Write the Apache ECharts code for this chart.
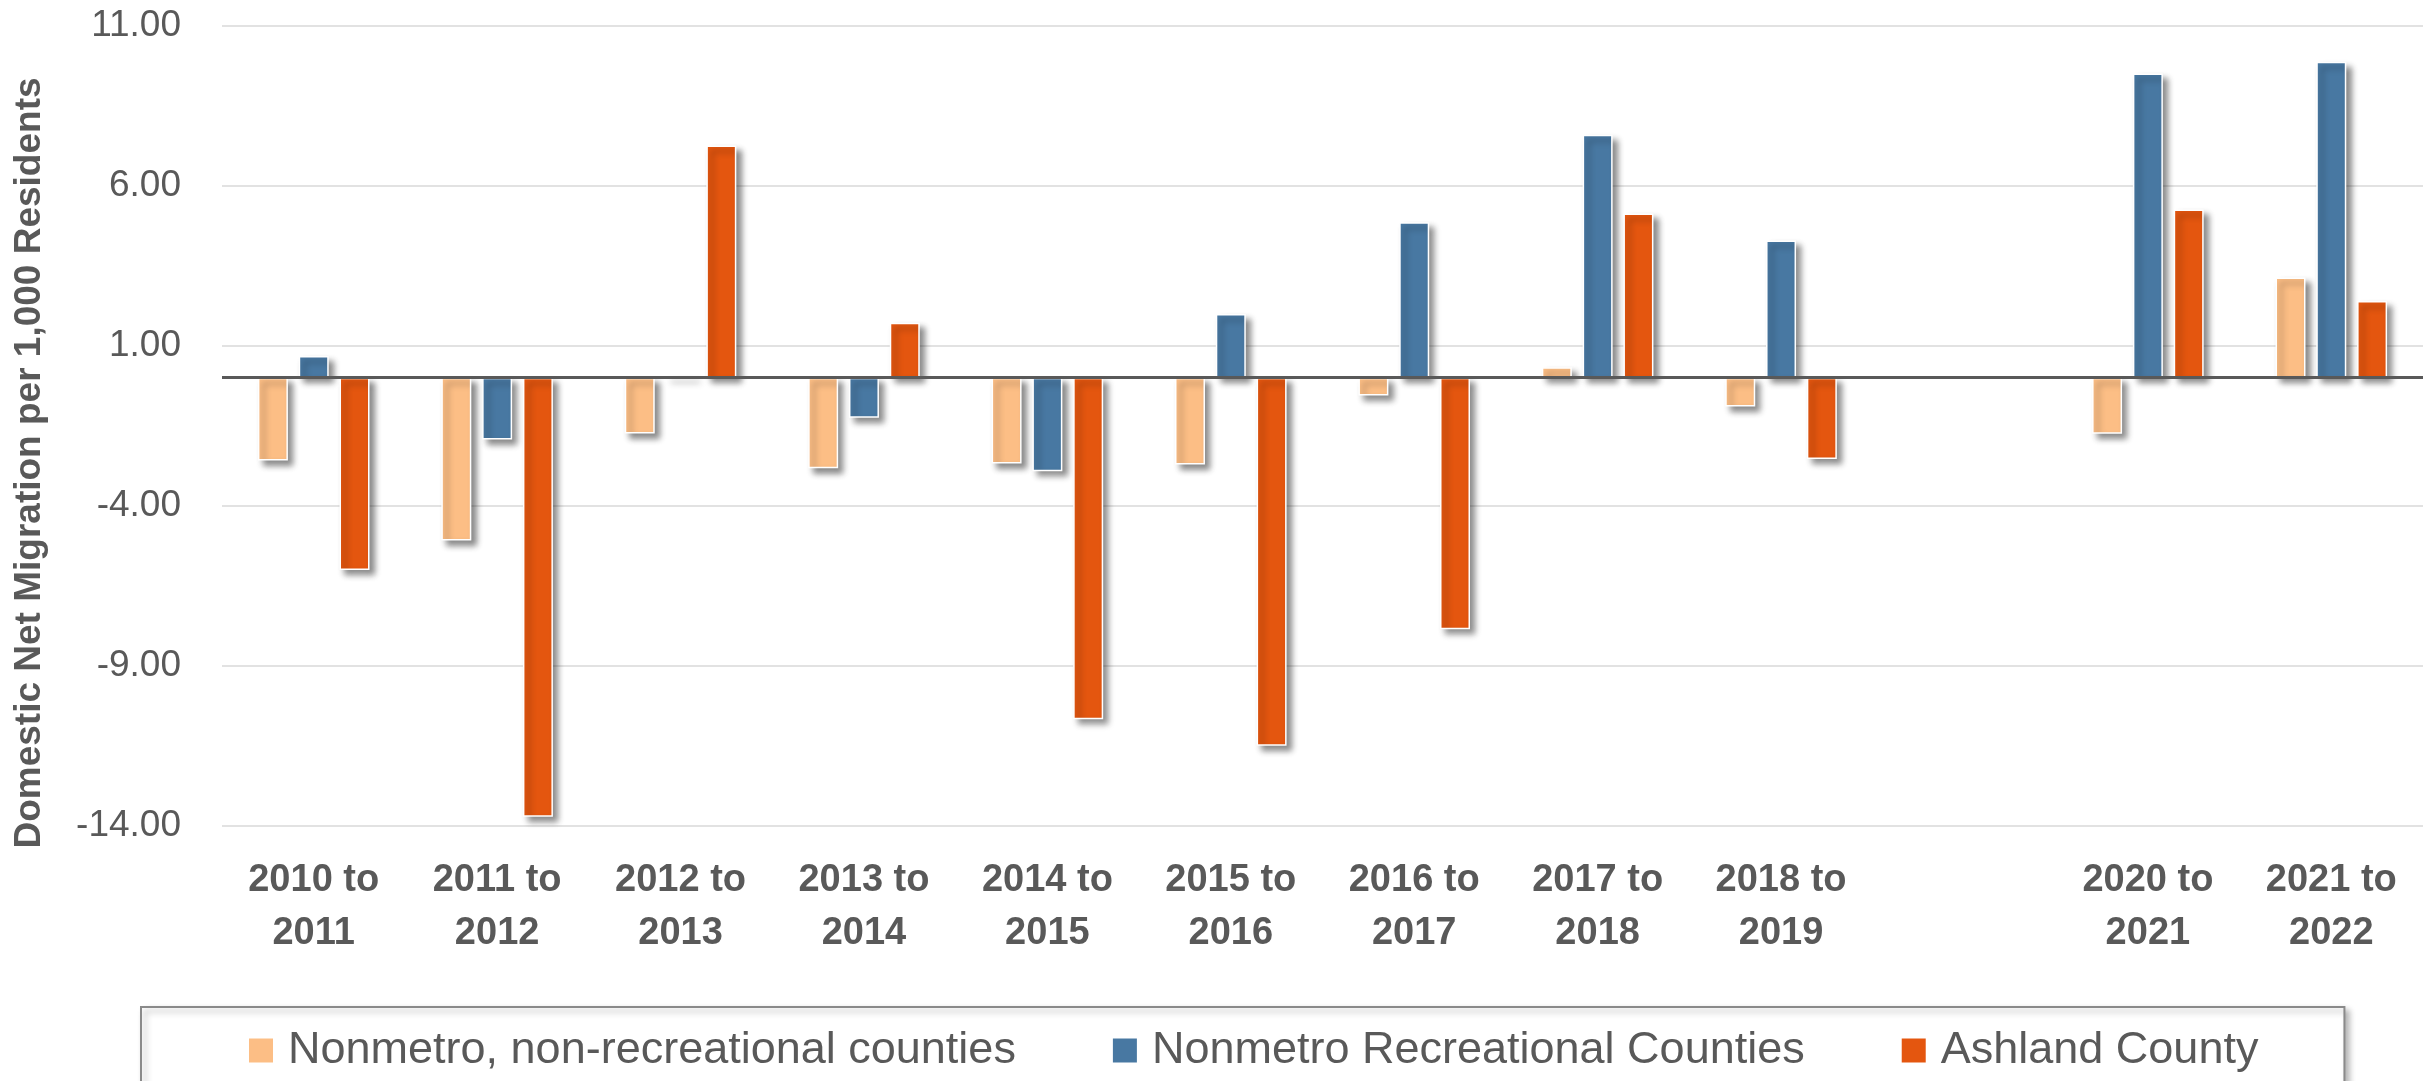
<!DOCTYPE html>
<html>
<head>
<meta charset="utf-8">
<title>Domestic Net Migration per 1,000 Residents</title>
<script src="https://cdn.jsdelivr.net/npm/echarts@6/dist/echarts.min.js"></script>
<style>
  html, body { margin: 0; padding: 0; background: #ffffff; }
  #chart { width: 2427px; height: 1081px; }
</style>
</head>
<body>
<div id="chart"></div>
<script>
// Periods (the 2019 to 2020 slot is left empty)
const categories = [
  '2010 to 2011', '2011 to 2012', '2012 to 2013', '2013 to 2014',
  '2014 to 2015', '2015 to 2016', '2016 to 2017', '2017 to 2018',
  '2018 to 2019', '', '2020 to 2021', '2021 to 2022'
];

const seriesNames = [
  'Nonmetro, non-recreational counties',
  'Nonmetro Recreational Counties',
  'Ashland County'
];

// Domestic net migration per 1,000 residents
const nonRecreational = [-2.59, -5.09, -1.74, -2.83, -2.68, -2.71, -0.56, 0.33, -0.90, null, -1.75, 3.13];
const recreational    = [0.68, -1.93, 0.05, -1.25, -2.92, 1.99, 4.86, 7.59, 4.29, null, 9.51, 9.87];
const ashland         = [-6.01, -13.72, 7.26, 1.72, -10.67, -11.50, -7.86, 5.13, -2.54, null, 5.26, 2.40];

// Value axis ticks: -14.00 … 11.00 in steps of 5
const yMin = -14;
const yMax = 11;
const yStep = 5;

const colors = ['#FCBE85', '#4878A2', '#E4560F'];
const textGray = '#595959';
const fontFamily = '"Liberation Sans", Arial, sans-serif';

const chart = echarts.init(document.getElementById('chart'), null, { renderer: 'canvas' });

function barSeries(name, values, color, extra) {
  return Object.assign({
    name: name,
    type: 'bar',
    data: values,
    barWidth: 30,
    barGap: '36%',
    itemStyle: {
      color: color,
      borderColor: '#ffffff',
      borderWidth: 1.5,
      shadowBlur: 6,
      shadowColor: 'rgba(0,0,0,0.45)',
      shadowOffsetX: 5,
      shadowOffsetY: 5
    },
    emphasis: { disabled: true }
  }, extra || {});
}

chart.setOption({
  animation: false,
  backgroundColor: '#ffffff',
  color: colors,
  textStyle: { fontFamily: fontFamily },
  grid: { left: 222, right: 4, top: 25.7, bottom: 255.3, containLabel: false },
  legend: {
    data: seriesNames,
    left: 141,
    top: 1007,
    orient: 'horizontal',
    icon: 'rect',
    itemWidth: 24,
    itemHeight: 24,
    itemGap: 97,
    padding: [21, 86, 29, 108],
    borderColor: '#8a8a8a',
    borderWidth: 2,
    backgroundColor: '#ffffff',
    shadowBlur: 6,
    shadowColor: 'rgba(0,0,0,0.3)',
    shadowOffsetX: 4,
    shadowOffsetY: 4,
    itemStyle: { borderWidth: 0 },
    textStyle: {
      fontFamily: fontFamily,
      fontSize: 45,
      color: textGray,
      lineHeight: 24,
      padding: [0, 0, 0, 10]
    }
  },
  xAxis: {
    type: 'category',
    data: categories,
    axisLine: { show: false },
    axisTick: { show: false },
    splitLine: { show: false },
    axisLabel: {
      interval: 0,
      margin: 28,
      color: textGray,
      fontFamily: fontFamily,
      fontSize: 38,
      fontWeight: 'bold',
      lineHeight: 53,
      formatter: function (v) { return v.replace(' to ', ' to\n'); }
    }
  },
  yAxis: {
    type: 'value',
    min: yMin,
    max: yMax,
    interval: yStep,
    axisLine: { show: false },
    axisTick: { show: false },
    splitLine: { lineStyle: { color: '#d9d9d9', width: 1.5 } },
    axisLabel: {
      margin: 41,
      color: textGray,
      fontFamily: fontFamily,
      fontSize: 37,
      formatter: function (v) { return v.toFixed(2); }
    }
  },
  graphic: [{
    type: 'text',
    x: 30,
    y: 463,
    rotation: Math.PI / 2,
    style: {
      text: 'Domestic Net Migration per 1,000 Residents',
      fill: textGray,
      font: 'bold 37px "Liberation Sans", Arial, sans-serif',
      textAlign: 'center',
      textVerticalAlign: 'middle'
    },
    silent: true
  }],
  series: [
    barSeries(seriesNames[0], nonRecreational, colors[0]),
    barSeries(seriesNames[1], recreational, colors[1]),
    barSeries(seriesNames[2], ashland, colors[2], {
      markLine: {
        silent: true,
        symbol: ['none', 'none'],
        label: { show: false },
        lineStyle: { color: '#595959', width: 3, type: 'solid' },
        emphasis: { disabled: true },
        data: [{ yAxis: 0 }]
      }
    })
  ]
});
</script>
</body>
</html>
